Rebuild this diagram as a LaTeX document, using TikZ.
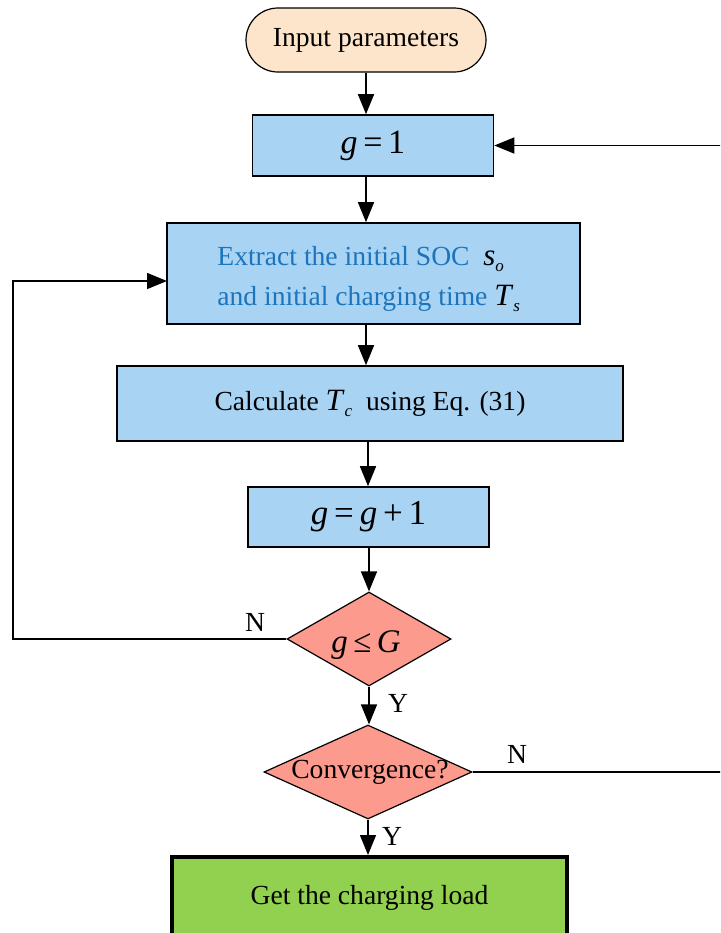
\documentclass[tikz,border=0pt]{standalone}
\usepackage{fontspec}
\setmainfont{Liberation Serif}
\usetikzlibrary{shapes.geometric,arrows.meta}
\definecolor{beige}{HTML}{FCE5CA}
\definecolor{boxblue}{HTML}{A9D3F3}
\definecolor{txtblue}{HTML}{1C75BC}
\definecolor{salmon}{HTML}{FC9A8E}
\definecolor{lgreen}{HTML}{92D050}
\newcommand{\mysub}[1]{\raisebox{-0.45ex}{\fontsize{8.5}{9}\selectfont\textit{#1}}}
\begin{document}
\begin{tikzpicture}[x=0.5pt,y=-0.5pt,
  font=\fontsize{13.8}{16}\selectfont,
  proc/.style={draw, fill=boxblue, line width=0.8pt, inner sep=0pt},
  term/.style={draw, fill=beige, line width=0.6pt, rounded corners=16pt, inner sep=0pt, minimum width=120pt, minimum height=32pt},
  dia/.style={draw, diamond, fill=salmon, line width=0.6pt, inner sep=0pt},
  lbl/.style={inner sep=0pt},
  arr/.style={-{Triangle[length=10pt,width=8pt]}, line width=0.75pt},
  line/.style={line width=0.75pt}]
\clip (0,0) rectangle (720,933);
\fill[white] (0,0) rectangle (720,933);

\node[term] (inp) at (366,40) {Input parameters};
\node[proc, minimum width=120.5pt, minimum height=30.5pt] (g1) at (373,145.5) {\fontsize{17}{18}\selectfont\textit{g}\,=\,1};
\node[proc, minimum width=206.5pt, minimum height=50.5pt] (ext) at (373.5,273.5) {};
\node[lbl, anchor=west, align=left, text=txtblue, font=\fontsize{13.8}{20}\selectfont] (extt) at (217,279)
  {Extract the initial SOC\enspace\textcolor{black}{\fontsize{15.5}{20}\selectfont\textit{s}\mysub{o}}\\
   and initial charging time \textcolor{black}{\fontsize{15.5}{20}\selectfont\textit{T}\mysub{s}}};
\node[proc, minimum width=253pt, minimum height=37.5pt] (calc) at (370,403.5)
  {Calculate {\fontsize{15.5}{18}\selectfont\textit{T}\mysub{c}}\enspace using Eq. (31)};
\node[proc, minimum width=120.5pt, minimum height=30pt] (gg) at (368.5,517) {\fontsize{17.5}{18}\selectfont\textit{g}\,=\,\textit{g}\,+\,1};
\node[dia, minimum width=82pt, minimum height=47pt] (d1) at (369,639) {};
\node[lbl] (d1t) at (366,645) {\fontsize{16.5}{18}\selectfont\textit{g}\,≤\,\textit{G}};
\node[dia, minimum width=104pt, minimum height=47pt] (d2) at (368,772) {};
\node[lbl] (d2t) at (370,772) {Convergence?};
\node[draw, fill=lgreen, line width=2pt, minimum width=197.5pt, minimum height=44pt, inner sep=0pt] (fin) at (369.5,901) {};
\node[lbl] (fint) at (369.5,898) {Get the charging load};

\coordinate (extin) at (167,281);
\draw[arr] (inp.south) -- (inp.south |- g1.north);
\draw[arr] (g1.south -| inp.south) -- (ext.north -| inp.south);
\draw[arr] (ext.south -| inp.south) -- (calc.north -| inp.south);
\draw[arr] (calc.south -| 368,0) -- (gg.north -| 368,0);
\draw[arr] (gg.south -| d1.north) -- (d1.north);
\draw[arr] (d1.south) -- (d2.north -| d1.south);
\draw[arr] (d2.south) -- (fin.north -| d2.south);
\draw[arr] (d1.west) -- (13,639) |- (extin);
\draw[arr] (d2.east) -- (745,772) |- (g1.east);

\node[lbl] (n1) at (255,622) {N};
\node[lbl] (y1) at (398,703) {Y};
\node[lbl] (n2) at (517,754) {N};
\node[lbl] (y2) at (392,836) {Y};
\end{tikzpicture}
\end{document}
